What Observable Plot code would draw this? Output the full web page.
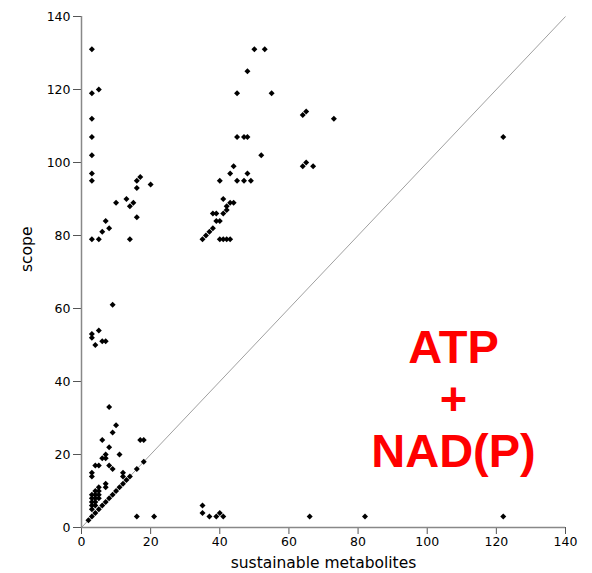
<!DOCTYPE html>
<html>
<head>
<meta charset="utf-8">
<script src="https://cdn.jsdelivr.net/npm/d3@7"></script>
<script src="https://cdn.jsdelivr.net/npm/@observablehq/plot@0.6"></script>
<style>
  html, body { margin: 0; padding: 0; background: white; }
</style>
</head>
<body>
<div id="chart"></div>
<script>
// sustainable metabolites (x) and scope (y)
const metabolites = [
  3,3,5,3,3,3,3,3,3,5,6,7,8,10,13,14,15,14,16,16,16,17,20,
  9,3,3,5,6,7,4,
  8,10,9,6,17,18,8,7,7,6,11,4,5,8,9,3,3,12,12,7,7,
  3,3,3,3,3,4,4,4,4,4,5,5,5,5,
  2,3,4,5,6,7,8,9,10,11,12,13,14,16,18,
  16,21,35,35,37,39,40,41,66,82,122,
  50,53,48,45,55,64,65,73,45,47,48,52,64,65,67,44,43,48,40,45,47,49,
  41,43,44,42,42,41,38,39,39,40,38,37,36,35,40,41,42,43,122
];
const scope = [
  131,119,120,112,107,102,97,95,79,79,81,84,82,89,90,88,89,79,85,93,95,96,94,
  61,53,52,54,51,51,50,
  33,28,26,24,24,24,22,20,19,19,20,17,17,17,16,15,14,15,14,12,11,
  5,6,7,8,9,6,7,8,9,10,8,9,10,11,
  2,3,4,5,6,7,8,9,10,11,12,13,14,16,18,
  3,3,6,4,3,3,4,3,3,3,3,
  131,131,125,119,119,113,114,112,107,107,107,102,99,100,99,99,97,97,95,95,95,95,
  90,89,89,88,87,86,86,86,84,84,82,81,80,79,79,79,79,79,107
];
const axisMax = 140;
const ticks = [0, 20, 40, 60, 80, 100, 120, 140];
const annotation = "ATP\n+\nNAD(P)";
const annotationPos = {x: 107.6, y: 35.5};

const points = metabolites.map((m, i) => ({m, s: scope[i]}));

const chart = Plot.plot({
  width: 592,
  height: 573,
  marginLeft: 81,
  marginRight: 27,
  marginTop: 16,
  marginBottom: 46,
  x: {domain: [0, axisMax]},
  y: {domain: [0, axisMax]},
  style: {fontFamily: "DejaVu Sans", fontSize: "12px", color: "#000", background: "white"},
  marks: [
    Plot.link([0], {x1: 0, y1: 0, x2: axisMax, y2: axisMax, stroke: "#888", strokeWidth: 0.8}),
    Plot.axisX({ticks, tickSize: 7, tickPadding: 3, label: null, stroke: "#555", fontSize: 12.5}),
    Plot.axisY({ticks, tickSize: 8, tickPadding: 3, label: null, stroke: "#555", fontSize: 12.5}),
    Plot.ruleX([0], {stroke: "#888", strokeWidth: 1.5}),
    Plot.ruleY([0], {stroke: "#888", strokeWidth: 1.5}),
    Plot.dot(points, {x: "m", y: "s", symbol: "diamond2", r: 2.7, fill: "black", stroke: "none"}),
    Plot.text([annotation], {
      x: annotationPos.x, y: annotationPos.y, text: d => d,
      fontFamily: "Liberation Sans", fontWeight: "bold", fontSize: 47,
      fill: "red", textAnchor: "middle", lineAnchor: "middle", lineHeight: 1.106
    }),
    Plot.text(["sustainable metabolites"], {frameAnchor: "bottom", dy: 40, fontSize: 15.5, text: d => d}),
    Plot.text(["scope"], {frameAnchor: "left", dx: -54, rotate: -90, fontSize: 15.5, text: d => d})
  ]
});
document.getElementById("chart").appendChild(chart);
</script>
</body>
</html>
